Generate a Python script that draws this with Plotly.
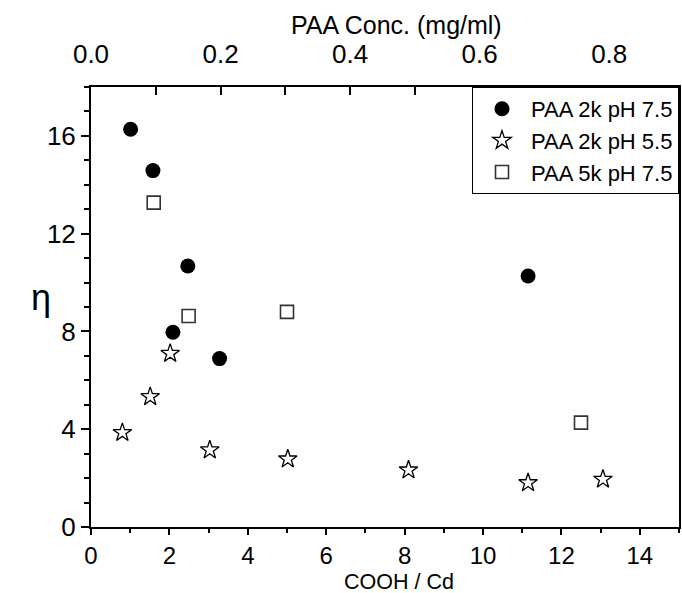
import plotly.graph_objects as go

# PAA 2k pH 7.5 (filled circles)
x_2k_75 = [1.01, 1.58, 2.47, 2.09, 3.28, 11.15]
y_2k_75 = [16.27, 14.58, 10.68, 7.97, 6.89, 10.27]

# PAA 2k pH 5.5 (open stars)
x_2k_55 = [0.80, 1.51, 2.02, 3.03, 5.02, 8.10, 11.15, 13.06]
y_2k_55 = [3.86, 5.33, 7.10, 3.15, 2.78, 2.33, 1.81, 1.95]

# PAA 5k pH 7.5 (open squares)
x_5k_75 = [1.60, 2.49, 5.00, 12.50]
y_5k_75 = [13.27, 8.63, 8.80, 4.27]

names = ["PAA 2k pH 7.5", "PAA 2k pH 5.5", "PAA 5k pH 7.5"]
x_title = "COOH / Cd"
x2_title = "PAA Conc. (mg/ml)"
y_title = "η"

FONT = "Liberation Sans, Arial, sans-serif"

fig = go.Figure()
fig.add_trace(go.Scatter(x=x_2k_75, y=y_2k_75, mode="markers", name=names[0],
                         marker=dict(symbol="circle", size=15, color="black",
                                     line=dict(width=0))))
fig.add_trace(go.Scatter(x=x_2k_55, y=y_2k_55, mode="markers", name=names[1],
                         marker=dict(symbol="star-open", size=14, color="black",
                                     line=dict(width=1.3, color="black"))))
fig.add_trace(go.Scatter(x=x_5k_75, y=y_5k_75, mode="markers", name=names[2],
                         marker=dict(symbol="square-open", size=13, color="#333",
                                     line=dict(width=1.6, color="#333"))))
# top axis carrier (no data)
fig.add_trace(go.Scatter(x=[], y=[], xaxis="x2", yaxis="y", showlegend=False))

fig.update_layout(
    width=682, height=593,
    margin=dict(l=91, r=1, t=87, b=66),
    plot_bgcolor="white", paper_bgcolor="white",
    font=dict(family=FONT, color="black", size=26),
    showlegend=True,
    legend=dict(x=1, xanchor="right", y=1, yanchor="top",
                bordercolor="black", borderwidth=1, bgcolor="white",
                itemwidth=48,
                font=dict(size=22, family=FONT)),
    xaxis=dict(range=[0, 15], tick0=0, dtick=2, showline=True, linecolor="black",
               linewidth=2, ticks="outside", ticklen=6, tickwidth=2, tickcolor="black",
               minor=dict(dtick=1, ticks="outside", ticklen=4, tickwidth=1.5, tickcolor="black"),
               showgrid=False, zeroline=False, mirror=False,
               tickfont=dict(size=24)),
    xaxis2=dict(range=[0, 0.9077], overlaying="x", side="top", anchor="y",
                tick0=0, dtick=0.2, tickformat=".1f", showline=True, linecolor="black",
                linewidth=2, ticks="inside", ticklen=8, tickwidth=1.5, tickcolor="black",
                minor=dict(dtick=0.1, ticks="inside", ticklen=8, tickwidth=1.5, tickcolor="black"),
                showgrid=False, zeroline=False, tickfont=dict(size=26),
                ticklabelstandoff=12),
    yaxis=dict(range=[0, 18], tick0=0, dtick=4, showline=True, linecolor="black",
               linewidth=2, ticks="outside", ticklen=8, tickwidth=2, tickcolor="black",
               minor=dict(dtick=1, ticks="outside", ticklen=5, tickwidth=1.5, tickcolor="black"),
               showgrid=False, zeroline=False, mirror=True,
               tickfont=dict(size=26)),
    annotations=[
        dict(text=x_title, xref="paper", yref="paper", x=0.524, y=0, yshift=-54.5,
             xanchor="center", yanchor="middle", showarrow=False, font=dict(size=21.5)),
        dict(text=x2_title, xref="paper", yref="paper", x=0.52, y=1, yshift=62,
             xanchor="center", yanchor="middle", showarrow=False, font=dict(size=25)),
        dict(text=y_title, xref="paper", yref="paper", x=0, xshift=-50, y=0.5, yshift=10,
             xanchor="center", yanchor="middle", showarrow=False, font=dict(size=36)),
    ],
)

fig.write_html("out.html")
